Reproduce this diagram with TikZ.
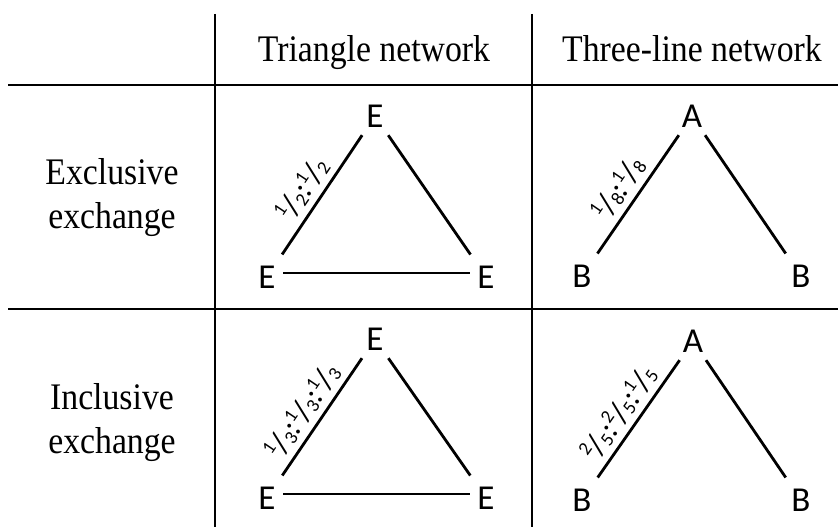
\documentclass[tikz,border=0pt]{standalone}
\usepackage{fontspec}
\setmainfont{Liberation Serif}[FakeStretch=0.9]
\newfontfamily\calfont{Carlito}
\newcommand\vfr[2]{\raisebox{0.36em}{\fontsize{19}{19}\selectfont #1}\kern-0.02em/\kern-0.02em\raisebox{-0.04em}{\fontsize{19}{19}\selectfont #2}}
\tikzset{
  tabline/.style={line width=1.5pt},
  edge/.style={line width=2.8pt},
  vert/.style={font=\calfont\fontsize{35}{40}\selectfont, inner sep=0pt, minimum width=32pt, minimum height=38pt},
  head/.style={font=\fontsize{37.5}{44}\selectfont, anchor=base, inner sep=0pt},
  rowlab/.style={font=\fontsize{37.5}{44}\selectfont, align=center, inner sep=0pt},
  elab/.style={font=\calfont\fontsize{32}{32}\selectfont, sloped, above=6pt, inner sep=0pt, pos=0.47}
}
\begin{document}
\begin{tikzpicture}[x=1pt,y=-1pt]
\useasboundingbox (0,0) rectangle (838,527);
% table rules
\draw[tabline] (215,14) -- (215,527);
\draw[tabline] (532,14) -- (532,527);
\draw[tabline] (8,85) -- (838,85);
\draw[tabline] (8,309) -- (838,309);
% headers
\node[head] (h1) at (374,62) {Triangle network};
\node[head] (h2) at (692,62) {Three-line network};
\node[rowlab] (r1) at (112,198) {Exclusive\\exchange};
\node[rowlab] (r2) at (112,423) {Inclusive\\exchange};
% top-left triangle
\node[vert] (t1) at (375,116) {E};
\node[vert] (t1l) at (267,277) {E};
\node[vert] (t1r) at (486,277) {E};
\draw[edge, shorten <=4pt] (t1l) -- node[elab] {\vfr{1}{2}:\vfr{1}{2}} (t1);
\draw[edge, shorten >=4pt] (t1) -- (t1r);
\draw[edge] ([yshift=4pt]t1l.east) -- ([yshift=4pt]t1r.west);
% top-right three-line
\node[vert] (a1) at (692,116) {A};
\node[vert] (a1l) at (582,276) {B};
\node[vert] (a1r) at (801,276) {B};
\draw[edge, shorten <=4pt] (a1l) -- node[elab] {\vfr{1}{8}:\vfr{1}{8}} (a1);
\draw[edge, shorten >=4pt] (a1) -- (a1r);
% bottom-left triangle
\node[vert] (t2) at (375,339) {E};
\node[vert] (t2l) at (267,498) {E};
\node[vert] (t2r) at (486,498) {E};
\draw[edge, shorten <=4pt] (t2l) -- node[elab] {\vfr{1}{3}:\vfr{1}{3}:\vfr{1}{3}} (t2);
\draw[edge, shorten >=4pt] (t2) -- (t2r);
\draw[edge] ([yshift=4pt]t2l.east) -- ([yshift=4pt]t2r.west);
% bottom-right three-line
\node[vert] (a2) at (693,341) {A};
\node[vert] (a2l) at (582,500) {B};
\node[vert] (a2r) at (801,500) {B};
\draw[edge, shorten <=4pt] (a2l) -- node[elab] {\vfr{2}{5}:\vfr{2}{5}:\vfr{1}{5}} (a2);
\draw[edge, shorten >=4pt] (a2) -- (a2r);
\end{tikzpicture}
\end{document}
